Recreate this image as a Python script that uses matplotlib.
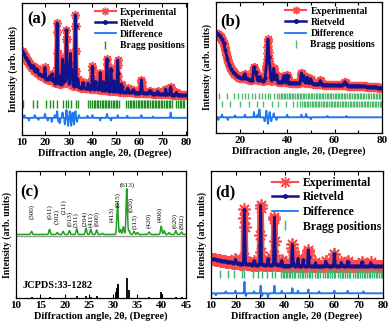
import numpy as np
import matplotlib
matplotlib.use("Agg")
import matplotlib.pyplot as plt
from matplotlib.lines import Line2D

plt.rcParams['font.family'] = ['Liberation Serif', 'DejaVu Serif']
plt.rcParams['font.weight'] = 'bold'

# ---------------- Panel (a) ----------------
a_bg_x = [10, 12, 15, 20, 25, 30, 35, 40, 50, 60, 70, 80]
a_bg_y = [64, 57, 49, 43, 39, 38, 36, 35, 33, 32, 31, 30]
a_peak_pos = [14.8, 16.2, 19.8, 21.9, 22.7, 23.6, 25.0, 26.2, 27.3, 28.2, 29.0, 29.7,
              30.7, 31.3, 32.8, 33.9, 36.0, 38.2, 40.1, 41.5, 43.4, 44.8, 46.3, 48.0,
              49.3, 50.9, 52.5, 55.2, 57.5, 61.0, 64.5, 68.0, 71.4, 73.5, 76.0]
a_peak_h = [3, 3, 8, 3, 5, 3, 46, 6, 19, 8, 41, 15,
            24, 12, 54, 6, 4, 4, 17, 6, 13, 6, 24, 17,
            8, 24, 6, 3, 2, 10, 2, 2, 4, 6, 2]
a_bragg = [10.6, 14.8, 16.2, 20.2, 21.9, 23.3, 25.1, 27.5, 29.0, 29.6, 31.1, 33.2, 33.9,
           38.1, 39.0, 39.9, 40.6, 41.2, 41.9, 42.5, 43.3, 44.0, 44.6, 45.3, 46.0, 46.6,
           47.3, 48.0, 48.7, 49.3, 50.0, 50.7, 51.3, 54.6, 55.3, 56.0, 56.6, 57.3, 58.0,
           58.7, 59.4, 60.0, 60.7, 61.4, 62.0, 62.7, 63.4, 64.0, 64.7, 65.4, 66.0, 66.7,
           67.4, 68.0, 68.7, 69.4, 70.0, 70.7, 71.4, 72.0, 72.7, 73.4, 74.0, 76.0, 76.7,
           77.4, 78.0, 78.7, 79.4]
a_diff_pos = [11.0, 13.0, 15.5, 17.0, 19.8, 21.0, 22.7, 24.0, 25.0, 25.6, 26.2, 27.3, 28.3,
              29.0, 29.7, 30.4, 31.0, 31.6, 32.2, 32.8, 33.5, 34.3, 38.0, 40.1, 43.4, 46.3,
              48.0, 50.9, 55.0, 61.0, 66.0, 73.5]
a_diff_amp = [2, -2, 2, -1.5, 3, -2, -3, 2, 5, -3, -4, 4, -5, 6, -6, 5, -6, 4, -5, 5, -3,
              2, 1.5, 2, -2, 3, -2, 2, 1.5, 2, 1, 4]

# ---------------- Panel (b) ----------------
b_bg_x = [10, 11, 12, 13, 14, 15, 16, 17, 18, 20, 25, 30, 40, 50, 60, 70, 80]
b_bg_y = [76, 75, 73, 70, 63, 55, 50, 47, 45, 42, 40.5, 40, 38.5, 37.5, 36.5, 36, 34.5]
b_peak_pos = [22.2, 26.0, 26.8, 28.5, 31.2, 31.9, 32.6, 34.3, 35.5, 38.5, 40.0,
              46.0, 47.0, 48.5, 50.0, 54.0, 64.4]
b_peak_h = [4, 10, 6, 3, 10, 31, 12, 10, 5, 5, 6, 8, 6, 5, 4, 3, 3]
b_bragg_top = [11.1, 14.6, 17.5, 19.3, 21.0, 22.4, 23.5, 25.2, 26.6, 28.0, 29.4, 30.5,
               31.9, 32.9, 34.3, 35.7, 36.6, 37.3, 38.0, 38.6, 39.3, 40.0, 40.6, 41.3,
               42.0, 42.6, 43.3, 44.0, 44.6, 45.3, 46.0, 46.6, 47.3, 48.0, 48.6, 49.3,
               50.0, 50.6, 51.3, 52.0, 52.6, 53.3, 54.0, 54.6, 55.3, 56.0, 56.6, 57.3,
               58.0, 58.6, 59.3, 60.0, 60.6, 61.3, 62.0, 62.6, 63.3, 64.0, 64.6, 65.3,
               66.0, 66.6, 67.3, 68.0, 68.6, 69.3, 70.0, 70.6, 71.3, 72.0, 72.6, 73.3,
               74.0, 74.6, 75.3, 76.0, 76.6, 77.3, 78.0, 78.6, 79.3]
b_bragg_bot = [12.5, 16.0, 20.0, 24.0, 27.3, 30.0, 33.5, 36.2, 39.6, 42.3, 44.3, 45.6,
               46.3, 47.0, 47.6, 48.3, 49.0, 49.6, 50.3, 51.0, 51.6, 52.3, 53.0, 53.6,
               54.3, 55.0, 55.6, 56.3, 57.0, 57.6, 58.3, 59.0, 59.6, 60.3, 61.0, 61.6,
               62.3, 63.0, 63.6, 64.3, 65.0, 65.6, 66.3, 67.0, 67.6, 68.3, 69.0, 69.6,
               70.3, 71.0, 71.6, 72.3, 73.0, 73.6, 74.3, 75.0, 75.6, 76.3, 77.0, 77.6,
               78.3, 79.0, 79.6]
b_diff_pos = [11.0, 12.5, 15.0, 18.0, 22.2, 26.0, 27.5, 28.3, 30.5, 31.2, 31.9, 32.6, 33.3,
              34.3, 35.5, 40.0, 46.0, 48.0, 50.0, 57.0, 65.0]
b_diff_amp = [-2, 2, -2, 1.5, 2, 4, 2, 6, -3, 5, -5, 4, -3, 3, -2, 2, 2, 2.5, -1.5, 1, 1]

# ---------------- Panel (c) ----------------
c_bg = 50
c_peak_pos = [13.2, 16.9, 18.5, 19.7, 21.0, 22.5, 24.4, 25.4, 26.6, 27.8, 30.9, 31.5,
              32.1, 32.8, 33.3, 34.3, 35.0, 37.4, 39.9, 40.5, 41.5, 42.9, 44.1]
c_peak_h = [2.5, 4, 1.5, 2.5, 3, 4.5, 5, 4, 3.5, 1, 25, 4, 6, 36, 3, 2.5, 1.5, 2, 6.5,
            3, 1.5, 3, 2]
c_hkl = ['(300)', '(011)', '(302)', '(211)', '(013)', '(311)', '(204)', '(411)', '(600)',
         '(413)', '(015)', '(613)', '(020)', '(513)', '(420)', '(406)', '(620)', '(802)']
c_hkl_x = [13.2, 16.9, 18.4, 19.8, 21.0, 22.4, 24.2, 25.4, 26.6, 29.8, 30.9, 32.9, 33.6,
           34.4, 37.3, 39.7, 42.8, 44.1]
c_hkl_y = [62, 62, 58, 66, 57, 56, 57, 56, 57, 60, 72, 88.5, 68, 54, 55, 60, 55, 54]
c_ref_pos = [13.2, 17.0, 22.5, 24.4, 25.4, 26.6, 30.5, 30.7, 30.9, 31.1, 32.8, 33.2, 37.4,
             39.8, 40.0, 42.9, 44.1]
c_ref_h = [0.8, 1, 1.3, 1.5, 1, 1.2, 5, 8, 10, 11, 15.5, 6, 0.8, 4.5, 3, 1, 1]

# ---------------- Panel (d) ----------------
d_bg_x = [10, 15, 20, 25, 30, 40, 50, 60, 70, 80]
d_bg_y = [31, 29, 27.5, 26.5, 26, 25.5, 25, 25, 25, 25]
d_peak_pos = [19.9, 23.6, 27.5, 30.2, 33.2, 35.8, 38.8, 43.1, 45.4, 47.5, 49.6, 52.5,
              56.7, 60.2, 63.0, 65.6, 71.3, 75.0]
d_peak_h = [3, 43, 3, 47, 5, 38, 4, 17, 6, 5, 13, 3, 4, 10, 3, 4, 3, 3]
d_bragg = [13.7, 16.8, 19.5, 22.5, 23.6, 27.2, 29.3, 30.9, 32.7, 35.0, 36.0, 38.5, 39.1,
           39.7, 40.4, 41.0, 41.7, 42.3, 43.0, 43.6, 44.2, 45.5, 46.2, 46.9, 47.6, 48.3,
           49.0, 49.7, 50.4, 51.0, 52.3, 53.0, 53.7, 54.4, 55.7, 56.4, 57.1, 57.8, 58.5,
           59.2, 59.9, 60.5, 61.8, 62.5, 63.2, 63.9, 64.6, 65.3, 66.0, 66.6, 67.9, 68.6,
           69.3, 70.0, 70.7, 71.4, 72.1, 72.8, 73.5, 74.2, 74.9, 75.6, 76.3, 77.0, 77.7,
           78.4, 79.1, 79.5]
d_diff_pos = [12.0, 16.0, 19.9, 23.6, 24.2, 27.5, 30.2, 30.8, 33.2, 35.8, 38.8, 43.1, 45.4,
              49.6, 54.0, 60.2, 65.6, 72.0]
d_diff_amp = [-1.5, 1.5, 2, 9, -2, 1.5, 6, -2, -3, 6, 2, 4, 2, 3, 1.5, 2, 2, 1.5]

RED = '#ff4a4a'
NAVY = '#12128c'
DBLUE = '#1f78f0'


def profile(x, bg_x, bg_y, pos, h, w):
    y = np.interp(x, bg_x, bg_y)
    for p, hh in zip(pos, h):
        y = y + hh * np.exp(-0.5 * ((x - p) / w) ** 2)
    return y


def spikes(x, base, pos, amp, w):
    y = np.full_like(x, base, dtype=float)
    for p, a in zip(pos, amp):
        y = y + a * np.exp(-0.5 * ((x - p) / w) ** 2)
    return y


fig = plt.figure(figsize=(3.9, 3.32), dpi=100)
W, H = 390.0, 332.0


def add_ax(l, r, t, b):
    return fig.add_axes([l / W, (H - b) / H, (r - l) / W, (b - t) / H])


def style(ax, xlim, major, minor, xlabel, tick_fs=8):
    ax.set_xlim(*xlim)
    ax.set_ylim(0, 100)
    ax.set_xticks(major)
    ax.set_xticks(minor, minor=True)
    ax.set_yticks([])
    ax.tick_params(axis='x', which='both', direction='in', top=True, bottom=True,
                   labelsize=tick_fs, pad=2.5, width=0.8)
    ax.tick_params(axis='x', which='major', length=3)
    ax.tick_params(axis='x', which='minor', length=2)
    for lab in ax.get_xticklabels():
        lab.set_fontweight('bold')
    ax.set_xlabel(xlabel, fontsize=7.5, fontweight='bold', labelpad=0.5)
    ax.set_ylabel('Intensity (arb. units)', fontsize=7, fontweight='bold', labelpad=3)
    for s in ax.spines.values():
        s.set_linewidth(0.9)


def rietveld_panel(ax, bg_x, bg_y, pos, h, w, ms, mew, step, lw_red):
    xf = np.union1d(np.arange(10, 80.001, 0.02), np.array(pos))
    xm = np.union1d(np.arange(10, 80.001, step), np.array(pos))
    ym = profile(xm, bg_x, bg_y, pos, h, w)
    yf = profile(xf, bg_x, bg_y, pos, h, w)
    ax.plot(xm, ym, color=RED, lw=lw_red, marker=(8, 2, 0), ms=ms, mew=mew, mec=RED,
            zorder=2)
    ax.plot(xf, yf, color=NAVY, lw=2.0, zorder=3)
    ax.plot(xf[::40], yf[::40], ls='none', marker='o', ms=2.0, color=NAVY, zorder=3)
    return xf


def legend(ax, bbox, fs, ms_exp, green):
    handles = [
        Line2D([], [], color=RED, lw=1.5, marker=(8, 2, 0), ms=ms_exp, mew=1.0),
        Line2D([], [], color=NAVY, lw=1.8, marker='o', ms=2.5),
        Line2D([], [], color=DBLUE, lw=1.3),
        Line2D([], [], color=green, ls='none', marker='|', ms=fs * 0.9, mew=1.0),
    ]
    labels = ['Experimental', 'Rietveld', 'Difference', 'Bragg positions']
    lg = ax.legend(handles, labels, loc='upper left', bbox_to_anchor=bbox,
                   frameon=False, handlelength=2.2, handletextpad=0.4,
                   labelspacing=0.22, borderpad=0, borderaxespad=0,
                   prop={'weight': 'bold', 'size': fs})
    return lg


# ---- (a)
axa = add_ax(22, 187, 3, 135)
xf = rietveld_panel(axa, a_bg_x, a_bg_y, a_peak_pos, a_peak_h, 0.17, 6.5, 1.0, 0.1, 3.5)
axa.plot(a_bragg, [23.5] * len(a_bragg), ls='none', marker='|', ms=6, mew=1.0,
         color='#1e8c1e')
axa.plot(xf, spikes(xf, 13, a_diff_pos, a_diff_amp, 0.12), color=DBLUE, lw=1.4)
style(axa, (10, 80.5), list(range(10, 81, 10)), [], 'Diffraction angle, 2θ, (Degree)')
legend(axa, (0.44, 0.965), 7, 5.5, '#1e8c1e')
axa.text(0.03, 0.875, '(a)', transform=axa.transAxes, fontsize=12, fontweight='bold',
         va='center', ha='left')

# ---- (b)
axb = add_ax(216, 382, 2, 133)
xf = rietveld_panel(axb, b_bg_x, b_bg_y, b_peak_pos, b_peak_h, 0.28, 6.5, 1.0, 0.1, 3.5)
axb.plot(b_bragg_top, [28] * len(b_bragg_top), ls='none', marker='|', ms=4.5, mew=1.0,
         color='#4cbb6c')
axb.plot(b_bragg_bot, [22] * len(b_bragg_bot), ls='none', marker='|', ms=4.5, mew=1.0,
         color='#4cbb6c')
axb.plot(xf, spikes(xf, 12, b_diff_pos, b_diff_amp, 0.12), color=DBLUE, lw=1.4)
style(axb, (10, 80), [20, 40, 60, 80], [10, 30, 50, 70], 'Diffraction angle, 2θ, (Degree)')
legend(axb, (0.416, 0.964), 7, 5.5, '#4cbb6c')
axb.text(0.025, 0.85, '(b)', transform=axb.transAxes, fontsize=12, fontweight='bold',
         va='center', ha='left')

# ---- (c)
axc = add_ax(16, 186, 171, 298)
xc = np.union1d(np.arange(10, 45.001, 0.02), np.array(c_peak_pos))
yc = profile(xc, [10, 45], [c_bg, c_bg], c_peak_pos, c_peak_h, 0.14)
axc.axhline(49, color='#9a9a9a', lw=1.0, zorder=1)
axc.plot(xc, yc, color='#1fa01f', lw=1.1, zorder=2)
axc.vlines(c_ref_pos, 0, c_ref_h, color='black', lw=1.3)
for lab, x, y in zip(c_hkl, c_hkl_x, c_hkl_y):
    if lab == '(613)':
        axc.text(x, y, lab, fontsize=5, ha='center', va='center', fontweight='normal')
    else:
        axc.text(x, y, lab, fontsize=5, rotation=90, ha='center', va='bottom',
                 fontweight='normal')
axc.text(11.4, 9.8, 'JCPDS:33-1282', fontsize=7.5, fontweight='bold', va='center',
         ha='left')
style(axc, (10, 45), list(range(10, 46, 5)), [], 'Diffraction angle, 2θ, (Degree)')
axc.text(0.025, 0.83, '(c)', transform=axc.transAxes, fontsize=12, fontweight='bold',
         va='center', ha='left')

# ---- (d)
axd = add_ax(211, 383, 171, 298)
xf = rietveld_panel(axd, d_bg_x, d_bg_y, d_peak_pos, d_peak_h, 0.17, 9, 1.2, 0.25, 4.5)
axd.plot(d_bragg, [19] * len(d_bragg), ls='none', marker='|', ms=6, mew=1.0,
         color='#3cb371')
axd.plot(xf, spikes(xf, 3.7, d_diff_pos, d_diff_amp, 0.12), color=DBLUE, lw=1.4)
style(axd, (10, 80), list(range(10, 81, 10)), [], 'Diffraction angle, 2θ (Degree)')
legend(axd, (0.355, 0.955), 8.5, 8, '#3cb371')
axd.text(0.025, 0.83, '(d)', transform=axd.transAxes, fontsize=12, fontweight='bold',
         va='center', ha='left')

fig.savefig('out.png', dpi=100)
